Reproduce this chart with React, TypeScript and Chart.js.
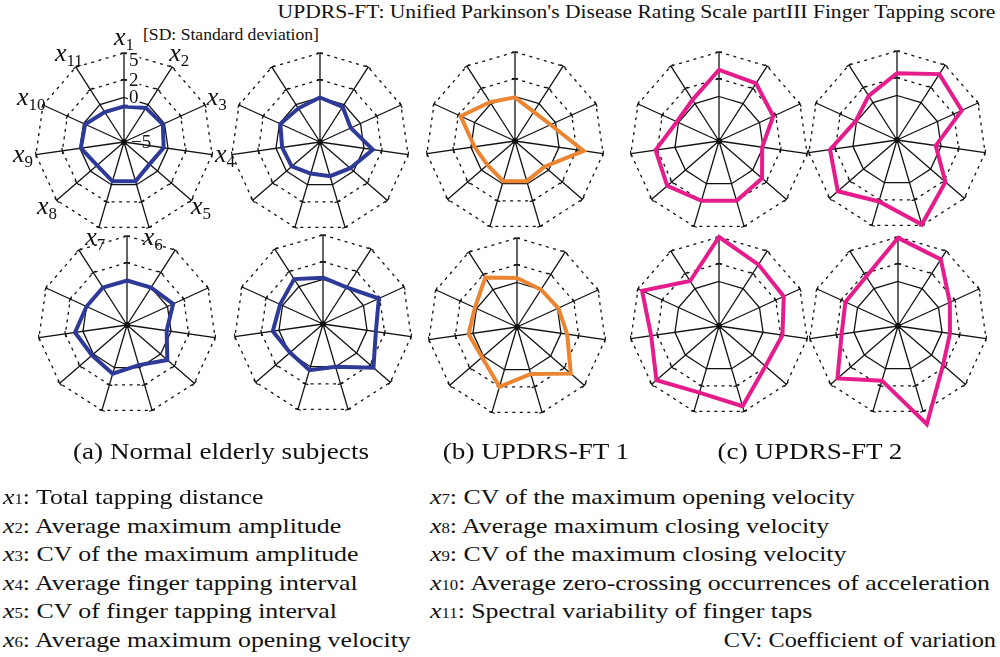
import React, { useEffect, useRef } from 'react';
import { Chart, registerables } from 'chart.js';

Chart.register(...registerables);

// ---------- data ----------
const AXES = ['x1', 'x2', 'x3', 'x4', 'x5', 'x6', 'x7', 'x8', 'x9', 'x10', 'x11'];
const TICK_VALUES = [-5, 0, 2, 5];
const TICK_LABELS = ['\u22125', '0', '2', '5'];

// (a) Normal elderly subjects
const normal1 = [-1.0, -0.45, -0.2, -0.5, -1.2, -0.4, -0.4, -1.0, -0.1, -0.2, -1.0];
const normal2 = [0.0, -0.3, -1.2, 1.0, -0.5, -1.0, -1.3, -0.8, -0.7, -0.1, -0.5];
const normal3 = [0.0, 0.0, 0.7, -0.5, 1.0, -0.3, 0.7, 0.2, 0.9, 0.0, 0.0];
const normal4 = [0.2, -0.1, 1.9, 1.0, 2.5, 0.0, 0.4, -0.1, 0.7, 0.3, 1.0];
// (b) UPDRS-FT 1
const ft1a = [-0.1, -1.1, -0.6, 2.8, -0.6, -0.3, -0.3, -0.9, -0.4, 1.7, 0.2];
const ft1b = [0.5, 0.0, 0.1, 0.7, 3.0, 0.5, 2.0, 0.2, 0.5, 0.2, 1.6];
// (c) UPDRS-FT 2
const ft2a = [3.0, 2.7, 1.7, -0.1, 1.4, 2.0, 2.0, 2.7, 2.2, 0.2, 0.5];
const ft2b = [2.5, 3.8, 3.0, -0.6, 2.2, 4.9, 2.2, 3.8, 2.6, 0.1, 0.9];
const ft2c = [5.0, 3.2, 3.0, 2.2, 1.9, 4.4, 2.8, 4.3, 2.7, 4.5, 1.0];
const ft2d = [4.9, 3.9, 1.4, 0.9, 1.7, 6.5, 1.4, 4.0, 1.4, 1.5, 1.6];

const LEGEND_LEFT = [
  ['1', 'Total tapping distance'],
  ['2', 'Average maximum amplitude'],
  ['3', 'CV of the maximum amplitude'],
  ['4', 'Average finger tapping interval'],
  ['5', 'CV of finger tapping interval'],
  ['6', 'Average maximum opening velocity'],
];
const LEGEND_RIGHT = [
  ['7', 'CV of the maximum opening velocity'],
  ['8', 'Average maximum closing velocity'],
  ['9', 'CV of the maximum closing velocity'],
  ['10', 'Average zero-crossing occurrences of acceleration'],
  ['11', 'Spectral variability of finger taps'],
];

// ---------- styles / layout ----------
const BLUE = '#2e3a97';
const ORANGE = '#ec8532';
const MAGENTA = '#e61c8c';
const SERIF = '"Liberation Serif", "Times New Roman", serif';
const SIZE = 260;
const PAD = 41;

const PANELS = [
  { values: normal1, color: BLUE, cx: 124, cy: 142, annotate: true },
  { values: normal2, color: BLUE, cx: 320, cy: 142 },
  { values: ft1a, color: ORANGE, cx: 515, cy: 141 },
  { values: ft2a, color: MAGENTA, cx: 719, cy: 141 },
  { values: ft2b, color: MAGENTA, cx: 897, cy: 140 },
  { values: normal3, color: BLUE, cx: 127, cy: 325 },
  { values: normal4, color: BLUE, cx: 323, cy: 324 },
  { values: ft1b, color: ORANGE, cx: 517, cy: 327 },
  { values: ft2c, color: MAGENTA, cx: 719, cy: 326 },
  { values: ft2d, color: MAGENTA, cx: 898, cy: 326 },
];

function decorPlugin(annotate: boolean) {
  return {
    id: 'decor',
    beforeDatasetsDraw(chart: any) {
      const s = chart.scales.r;
      const ctx = chart.ctx;
      ctx.save();
      ctx.strokeStyle = '#111';
      ctx.lineWidth = 1.2;
      for (let i = 0; i < AXES.length; i++) {
        for (const v of [2, 5]) {
          const p = s.getPointPosition(i, s.getDistanceFromCenterForValue(v));
          const a = p.angle + Math.PI / 2;
          ctx.beginPath();
          ctx.moveTo(p.x - 3 * Math.cos(a), p.y - 3 * Math.sin(a));
          ctx.lineTo(p.x + 3 * Math.cos(a), p.y + 3 * Math.sin(a));
          ctx.stroke();
        }
      }
      ctx.restore();
    },
    afterDatasetsDraw(chart: any) {
      const s = chart.scales.r;
      const ctx = chart.ctx;
      ctx.save();
      ctx.fillStyle = '#111';
      ctx.beginPath();
      ctx.arc(s.xCenter, s.yCenter, 3, 0, Math.PI * 2);
      ctx.fill();
      if (annotate) {
        // axis labels
        for (let i = 0; i < AXES.length; i++) {
          const p = s.getPointPosition(i, s.drawingArea + 13);
          const sub = AXES[i].slice(1);
          ctx.font = `italic 26px ${SERIF}`;
          const wx = ctx.measureText('x').width;
          ctx.font = `17px ${SERIF}`;
          const ws = ctx.measureText(sub).width;
          const x0 = p.x - (wx + ws) / 2;
          ctx.textBaseline = 'alphabetic';
          ctx.textAlign = 'left';
          ctx.font = `italic 26px ${SERIF}`;
          ctx.fillText('x', x0, p.y + 5);
          ctx.font = `17px ${SERIF}`;
          ctx.fillText(sub, x0 + wx, p.y + 10);
        }
        // tick labels
        ctx.font = `19px ${SERIF}`;
        ctx.textAlign = 'left';
        ctx.textBaseline = 'middle';
        TICK_VALUES.forEach((v, k) => {
          const d = s.getDistanceFromCenterForValue(v);
          const dy = v === 5 ? 7 : 0;
          const dx = v === -5 ? 7 : 5;
          const w = ctx.measureText(TICK_LABELS[k]).width;
          ctx.fillStyle = '#fff';
          if (v !== -5) ctx.fillRect(s.xCenter + dx - 1, s.yCenter - d + dy - 8, w + 2, 16);
          ctx.fillStyle = '#111';
          ctx.fillText(TICK_LABELS[k], s.xCenter + dx, s.yCenter - d + dy + 1);
        });
      }
      ctx.restore();
    },
  };
}

function RadarPanel(props: { values: number[]; color: string; cx: number; cy: number; annotate?: boolean }) {
  const ref = useRef<HTMLCanvasElement>(null);
  useEffect(() => {
    if (!ref.current) return;
    const chart = new Chart(ref.current, {
      type: 'radar',
      data: {
        labels: AXES,
        datasets: [
          {
            data: props.values,
            borderColor: props.color,
            borderWidth: 4,
            fill: false,
            pointRadius: 0,
            pointHoverRadius: 0,
            tension: 0,
            clip: false,
          } as any,
        ],
      },
      options: {
        responsive: false,
        animation: false,
        events: [],
        layout: { padding: PAD },
        plugins: { legend: { display: false }, tooltip: { enabled: false } },
        scales: {
          r: {
            min: -5,
            max: 5,
            startAngle: 0,
            afterBuildTicks: (scale: any) => {
              scale.ticks = TICK_VALUES.map((v) => ({ value: v }));
            },
            ticks: { display: false },
            pointLabels: { display: false },
            angleLines: { color: '#111', lineWidth: 1.3 },
            grid: { color: '#111', lineWidth: 1.3 },
            border: {
              dash: (c: any) => (c.tick && c.tick.value === 0 ? [] : [3, 4.5]),
            },
          } as any,
        },
      },
      plugins: [decorPlugin(!!props.annotate)],
    });
    return () => chart.destroy();
  }, []);
  return (
    <canvas
      ref={ref}
      width={SIZE}
      height={SIZE}
      style={{ position: 'absolute', left: props.cx - SIZE / 2, top: props.cy - SIZE / 2, width: SIZE, height: SIZE }}
    />
  );
}

function LegendItem(props: { n: string; text: string; left: number; cy: number }) {
  return (
    <div
      style={{
        position: 'absolute',
        left: props.left,
        top: props.cy - 13,
        fontSize: 21.5,
        lineHeight: '26px',
        whiteSpace: 'nowrap',
        transform: 'scaleX(1.2)',
        transformOrigin: 'left center',
      }}
    >
      <span style={{ fontStyle: 'italic' }}>x</span>
      <span style={{ fontSize: 14 }}>{props.n}</span>: {props.text}
    </div>
  );
}

function Caption(props: { text: string; cx: number }) {
  return (
    <div
      style={{
        position: 'absolute',
        left: props.cx - 250,
        width: 500,
        top: 437,
        textAlign: 'center',
        fontSize: 24,
        lineHeight: '28px',
        whiteSpace: 'nowrap',
        transform: 'scaleX(1.13)',
        transformOrigin: 'center center',
      }}
    >
      {props.text}
    </div>
  );
}

export default function App() {
  useEffect(() => {
    document.body.style.margin = '0';
  }, []);
  const rowY = [497, 525.5, 554, 582.5, 611, 640];
  return (
    <div
      style={{
        position: 'absolute',
        left: 0,
        top: 0,
        width: 1000,
        height: 657,
        background: '#fff',
        fontFamily: SERIF,
        color: '#111',
        overflow: 'hidden',
      }}
    >
      <div
        style={{
          position: 'absolute',
          right: 5,
          top: 1,
          fontSize: 19,
          lineHeight: '22px',
          whiteSpace: 'nowrap',
          transform: 'scaleX(1.135)',
          transformOrigin: 'right center',
        }}
      >
        UPDRS-FT: Unified Parkinson's Disease Rating Scale partIII Finger Tapping score
      </div>
      <div
        style={{
          position: 'absolute',
          left: 143,
          top: 25,
          fontSize: 16,
          lineHeight: '20px',
          whiteSpace: 'nowrap',
          transform: 'scaleX(1.1)',
          transformOrigin: 'left center',
        }}
      >
        [SD: Standard deviation]
      </div>
      {PANELS.map((p, i) => (
        <RadarPanel key={i} {...p} />
      ))}
      <Caption text="(a) Normal elderly subjects" cx={221} />
      <Caption text="(b) UPDRS-FT 1" cx={536} />
      <Caption text="(c) UPDRS-FT 2" cx={810} />
      {LEGEND_LEFT.map(([n, t], i) => (
        <LegendItem key={'l' + i} n={n} text={t} left={3} cy={rowY[i]} />
      ))}
      {LEGEND_RIGHT.map(([n, t], i) => (
        <LegendItem key={'r' + i} n={n} text={t} left={430} cy={rowY[i]} />
      ))}
      <div
        style={{
          position: 'absolute',
          right: 4,
          top: rowY[5] - 13,
          fontSize: 21.5,
          lineHeight: '26px',
          whiteSpace: 'nowrap',
          transform: 'scaleX(1.13)',
          transformOrigin: 'right center',
        }}
      >
        CV: Coefficient of variation
      </div>
    </div>
  );
}
